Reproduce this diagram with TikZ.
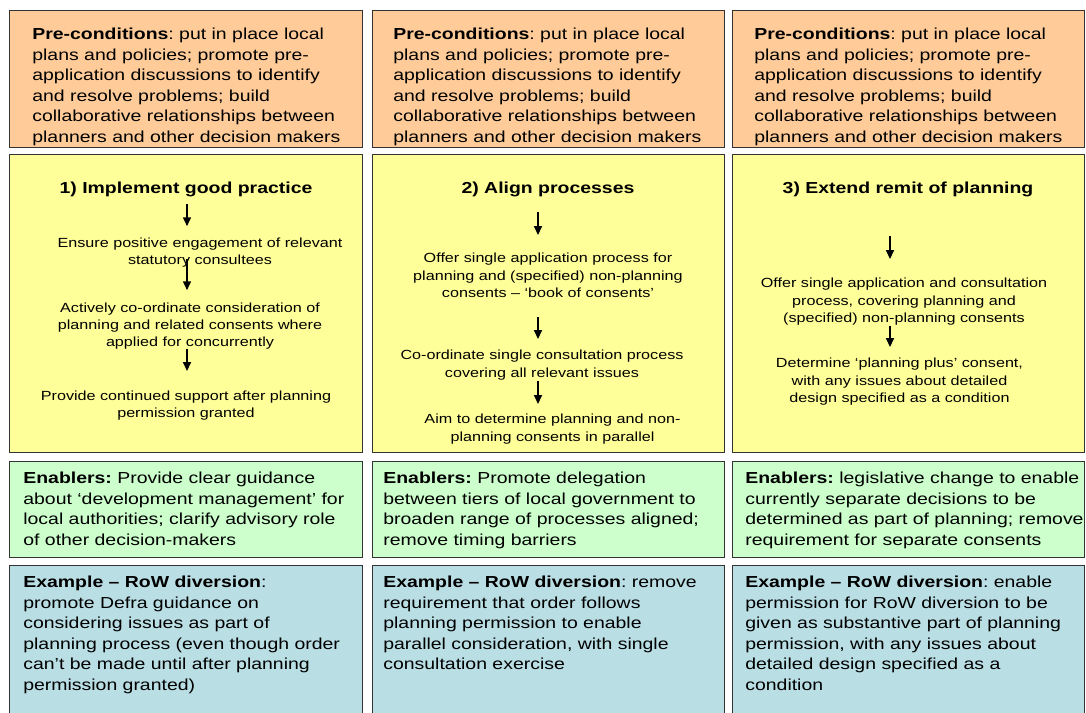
\documentclass[tikz,border=0pt]{standalone}
\usepackage{fontspec}
\setmainfont{Liberation Sans}[FakeStretch=1.22]
\usetikzlibrary{arrows.meta, positioning}
\frenchspacing

\newdimen\px \px=0.2mm
\definecolor{preorange}{HTML}{FFCC99}
\definecolor{routeyellow}{HTML}{FFFF99}
\definecolor{enablegreen}{HTML}{CCFFCC}
\definecolor{examplecyan}{RGB}{185,222,228}
\newcommand{\precondtext}{\textbf{Pre-conditions}: put in place local\\plans and policies; promote pre-\\application discussions to identify\\and resolve problems; build\\collaborative relationships between\\planners and other decision makers}

\tikzset{
  box/.style={draw=black!80, line width=0.8pt, anchor=north west, inner sep=0pt},
  maintxt/.style={anchor=north west, align=left, inner sep=0pt, font=\fontsize{9.07}{11.68}\selectfont},
  headtxt/.style={anchor=north, inner sep=0pt, font=\fontsize{9.07}{11}\selectfont\bfseries},
  steptxt/.style={anchor=north, align=center, inner sep=0pt, font=\fontsize{7.54}{9.81}\selectfont},
  flow/.style={-{Triangle[length=5pt,width=4.5pt]}, line width=0.75pt},
}

\begin{document}
\begin{tikzpicture}[x=0.02cm, y=-0.02cm]
\clip (0,0) rectangle (1086,713);
% Boxes: one column per option, four rows
\node[box, fill=preorange, minimum width=353\px, minimum height=137\px] (pre1) at (9,10) {};
\node[box, fill=preorange, minimum width=352\px, minimum height=137\px] (pre2) at (372,10) {};
\node[box, fill=preorange, minimum width=352\px, minimum height=137\px] (pre3) at (732,10) {};
\node[box, fill=routeyellow, minimum width=353\px, minimum height=298\px] (opt1) at (9,154) {};
\node[box, fill=routeyellow, minimum width=352\px, minimum height=298\px] (opt2) at (372,154) {};
\node[box, fill=routeyellow, minimum width=352\px, minimum height=298\px] (opt3) at (732,154) {};
\node[box, fill=enablegreen, minimum width=353\px, minimum height=96\px] (enb1) at (9,461) {};
\node[box, fill=enablegreen, minimum width=352\px, minimum height=96\px] (enb2) at (372,461) {};
\node[box, fill=enablegreen, minimum width=352\px, minimum height=96\px] (enb3) at (732,461) {};
\node[box, fill=examplecyan, minimum width=353\px, minimum height=200\px] (row1) at (9,565) {};
\node[box, fill=examplecyan, minimum width=352\px, minimum height=200\px] (row2) at (372,565) {};
\node[box, fill=examplecyan, minimum width=352\px, minimum height=200\px] (row3) at (732,565) {};
% Pre-conditions
\node[maintxt] (pretxt1) at (32,27.7) {\precondtext};
\node[maintxt] (pretxt2) at (393,27.7) {\precondtext};
\node[maintxt] (pretxt3) at (754,27.7) {\precondtext};
% Option 1
\node[headtxt] (h1) at (186,181.8) {1) Implement good practice};
\node[steptxt] (t11) at (200,237.2) {Ensure positive engagement of relevant\\statutory consultees};
\node[steptxt] (t12) at (190,302.2) {Actively co-ordinate consideration of\\planning and related consents where\\applied for concurrently};
\node[steptxt] (t13) at (186,390.5) {Provide continued support after planning\\permission granted};
% Option 2
\node[headtxt] (h2) at (548,181.8) {2) Align processes};
\node[steptxt] (t21) at (548,253) {Offer single application process for\\planning and (specified) non-planning\\consents – ‘book of consents’};
\node[steptxt] (t22) at (542,350) {Co-ordinate single consultation process\\covering all relevant issues};
\node[steptxt] (t23) at (552.5,414) {Aim to determine planning and non-\\planning consents in parallel};
% Option 3
\node[headtxt] (h3) at (908,181.8) {3) Extend remit of planning};
\node[steptxt] (t31) at (904,278) {Offer single application and consultation\\process, covering planning and\\(specified) non-planning consents};
\node[steptxt] (t32) at (899.5,358) {Determine ‘planning plus’ consent,\\with any issues about detailed\\design specified as a condition};
% Arrows
\coordinate (ax1) at (187,0);
\coordinate (ax2) at (538,0);
\coordinate (ax3) at (890,0);
\draw[flow, shorten <=6.3\px, shorten >=11\px] (h1.south -| ax1) -- (t11.north -| ax1);
\draw[flow, shorten <=-8.3\px, shorten >=12\px] (t11.south -| ax1) -- (t12.north -| ax1);
\draw[flow, shorten <=-1.1\px, shorten >=19.5\px] (t12.south -| ax1) -- (t13.north -| ax1);
\draw[flow, shorten <=14.3\px, shorten >=18\px] (h2.south -| ax2) -- (t21.north -| ax2);
\draw[flow, shorten <=19\px, shorten >=11\px] (t21.south -| ax2) -- (t22.north -| ax2);
\draw[flow, shorten <=0.4\px, shorten >=10\px] (t22.south -| ax2) -- (t23.north -| ax2);
\draw[flow, shorten <=38.3\px, shorten >=19\px] (h3.south -| ax3) -- (t31.north -| ax3);
\draw[flow, shorten <=0.1\px, shorten >=11\px] (t31.south -| ax3) -- (t32.north -| ax3);
% Enablers
\node[maintxt] (enbtxt1) at (23,471.7) {\textbf{Enablers:} Provide clear guidance\\about ‘development management’ for\\local authorities; clarify advisory role\\of other decision-makers};
\node[maintxt] (enbtxt2) at (383,471.7) {\textbf{Enablers:} Promote delegation\\between tiers of local government to\\broaden range of processes aligned;\\remove timing barriers};
\node[maintxt] (enbtxt3) at (745,471.7) {\textbf{Enablers:} legislative change to enable\\currently separate decisions to be\\determined as part of planning; remove\\requirement for separate consents};
% Example -- RoW diversion
\node[maintxt] (rowtxt1) at (23,575.7) {\textbf{Example – RoW diversion}:\\promote Defra guidance on\\considering issues as part of\\planning process (even though order\\can’t be made until after planning\\permission granted)};
\node[maintxt] (rowtxt2) at (383,575.7) {\textbf{Example – RoW diversion}: remove\\requirement that order follows\\planning permission to enable\\parallel consideration, with single\\consultation exercise};
\node[maintxt] (rowtxt3) at (745,575.7) {\textbf{Example – RoW diversion}: enable\\permission for RoW diversion to be\\given as substantive part of planning\\permission, with any issues about\\detailed design specified as a\\condition};
\end{tikzpicture}
\end{document}
